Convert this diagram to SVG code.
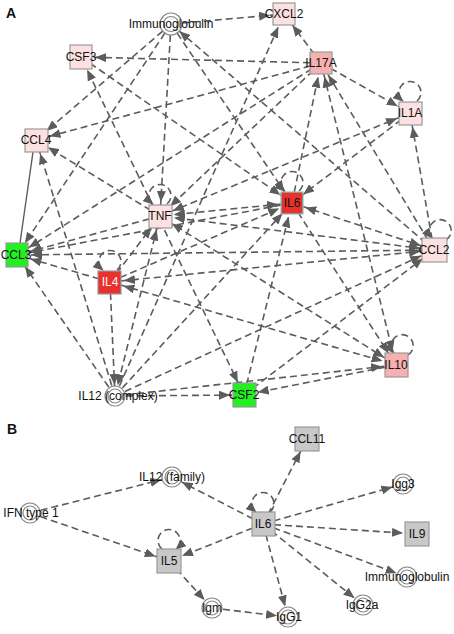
<svg xmlns="http://www.w3.org/2000/svg" width="454" height="634" viewBox="0 0 454 634">
<style>
.e{stroke:#5c5c5c;stroke-width:1.6;stroke-dasharray:7 4;fill:none}
.s{marker-end:url(#as)}
.c{marker-end:url(#ac)}
.b{marker-start:url(#ass)}
.l{marker-end:url(#at)}
.sol{stroke:#5c5c5c;stroke-width:1.4;fill:none}
.t{font-family:"Liberation Sans",Arial,sans-serif;font-size:12px;fill:#111;text-anchor:middle}
.h{font-family:"Liberation Sans",Arial,sans-serif;font-size:14px;font-weight:bold;fill:#111}
.bx{stroke:#999;stroke-width:1.2}
.lp{fill:#fde0e0}.md{fill:#f7b0b0}.rd{fill:#e8302c}.gr{fill:#22f022}.gy{fill:#c8c8c8}
.o{fill:#fff;stroke:#888;stroke-width:1.2}
.i{fill:none;stroke:#888;stroke-width:1.2}
</style>
<defs>
<marker id="as" markerUnits="userSpaceOnUse" markerWidth="11" markerHeight="9" viewBox="0 0 11 9" refX="25" refY="4.5" orient="auto"><path d="M0,0L11,4.5L0,9z" fill="#5c5c5c"/></marker>
<marker id="ass" markerUnits="userSpaceOnUse" markerWidth="11" markerHeight="9" viewBox="0 0 11 9" refX="25" refY="4.5" orient="auto-start-reverse"><path d="M0,0L11,4.5L0,9z" fill="#5c5c5c"/></marker>
<marker id="ac" markerUnits="userSpaceOnUse" markerWidth="11" markerHeight="9" viewBox="0 0 11 9" refX="22" refY="4.5" orient="auto"><path d="M0,0L11,4.5L0,9z" fill="#5c5c5c"/></marker>
<marker id="at" markerUnits="userSpaceOnUse" markerWidth="11" markerHeight="9" viewBox="0 0 11 9" refX="10" refY="4.5" orient="auto"><path d="M0,0L11,4.5L0,9z" fill="#5c5c5c"/></marker>
</defs>
<rect width="454" height="634" fill="#fff"/>
<text class="h" x="6" y="18">A</text>
<text class="h" x="7" y="434">B</text>
<g id="connectors">
<line class="e s" x1="171" y1="24" x2="284" y2="14"/>
<line class="e s" x1="171" y1="24" x2="36" y2="140"/>
<line class="e s" x1="171" y1="24" x2="17" y2="255"/>
<line class="e s" x1="171" y1="24" x2="160" y2="216"/>
<line class="e s" x1="171" y1="24" x2="292" y2="203"/>
<line class="e c" x1="434" y1="250" x2="171" y2="24"/>
<line class="e s" x1="321" y1="63" x2="284" y2="14"/>
<line class="e s" x1="321" y1="63" x2="81" y2="57"/>
<line class="e s" x1="321" y1="63" x2="410" y2="113"/>
<line class="e s" x1="321" y1="63" x2="36" y2="140"/>
<line class="e s" x1="321" y1="63" x2="17" y2="255"/>
<line class="e s" x1="321" y1="63" x2="160" y2="216"/>
<line class="e s" x1="292" y1="203" x2="321" y2="63"/>
<line class="e s b" x1="321" y1="63" x2="396" y2="365"/>
<line class="e s" x1="434" y1="250" x2="321" y2="63"/>
<line class="e s b" x1="160" y1="216" x2="410" y2="113"/>
<line class="e s" x1="434" y1="250" x2="410" y2="113"/>
<line class="e s" x1="410" y1="113" x2="292" y2="203"/>
<line class="e s b" x1="292" y1="203" x2="160" y2="216"/>
<line class="e s b" x1="434" y1="250" x2="160" y2="216"/>
<line class="e s b" x1="396" y1="365" x2="160" y2="216"/>
<line class="e s" x1="160" y1="216" x2="36" y2="140"/>
<line class="e s" x1="160" y1="216" x2="17" y2="255"/>
<line class="e b" x1="160" y1="216" x2="115" y2="396" style="marker-end:url(#ac)"/>
<line class="e s" x1="115" y1="396" x2="284" y2="14"/>
<line class="e s" x1="81" y1="57" x2="292" y2="203"/>
<line class="e s b" x1="244" y1="395" x2="81" y2="57"/>
<line class="e s" x1="115" y1="396" x2="36" y2="140"/>
<line class="sol" x1="33" y1="152" x2="20" y2="243"/>
<line class="e s" x1="110" y1="282" x2="17" y2="255"/>
<line class="e s" x1="110" y1="282" x2="160" y2="216"/>
<line class="e s" x1="110" y1="282" x2="292" y2="203"/>
<line class="e c" x1="110" y1="282" x2="115" y2="396"/>
<line class="e s b" x1="110" y1="282" x2="396" y2="365"/>
<line class="e s b" x1="110" y1="282" x2="434" y2="250"/>
<line class="e s" x1="115" y1="396" x2="17" y2="255"/>
<line class="e s" x1="115" y1="396" x2="292" y2="203"/>
<line class="e s" x1="115" y1="396" x2="244" y2="395"/>
<line class="e s" x1="115" y1="396" x2="396" y2="365"/>
<line class="e s" x1="115" y1="396" x2="434" y2="250"/>
<line class="e s" x1="244" y1="395" x2="292" y2="203"/>
<line class="e s" x1="244" y1="395" x2="434" y2="250"/>
<line class="e s" x1="396" y1="365" x2="244" y2="395"/>
<line class="e s b" x1="434" y1="250" x2="292" y2="203"/>
<line class="e s" x1="292" y1="203" x2="396" y2="365"/>
<line class="e s" x1="292" y1="203" x2="17" y2="255"/>
<line class="e s" x1="434" y1="250" x2="17" y2="255"/>
<path class="e l" d="M167,204A11,11 0 1,0 153,204"/>
<path class="e l" d="M299,191A11,11 0 1,0 285,191"/>
<path class="e l" d="M417,101A11,11 0 1,0 403,101"/>
<path class="e l" d="M446,240A11,11 0 1,0 432,238"/>
<path class="e l" d="M117,270A11,11 0 1,0 103,270"/>
<path class="e l" d="M408,355A11,11 0 1,0 394,353"/>
<line class="e c" x1="30" y1="513" x2="172" y2="477"/>
<line class="e s" x1="30" y1="513" x2="169" y2="561"/>
<line class="e c" x1="263" y1="524" x2="172" y2="477"/>
<line class="e s" x1="263" y1="524" x2="169" y2="561"/>
<line class="e s" x1="263" y1="524" x2="307" y2="439"/>
<line class="e c" x1="263" y1="524" x2="403" y2="484"/>
<line class="e s" x1="263" y1="524" x2="417" y2="534"/>
<line class="e c" x1="263" y1="524" x2="407" y2="577"/>
<line class="e c" x1="263" y1="524" x2="363" y2="605"/>
<line class="e c" x1="263" y1="524" x2="288" y2="617"/>
<line class="e c" x1="169" y1="561" x2="212" y2="608"/>
<line class="e c" x1="212" y1="608" x2="288" y2="617"/>
<path class="e l" d="M270,512A11,11 0 1,0 256,512"/>
<path class="e l" d="M162,549A11,11 0 1,1 176,549"/>
</g>
<g id="a-immunoglobulin"><circle class="o" cx="171" cy="24" r="11"/><circle class="i" cx="171" cy="24" r="7.5"/><text class="t" x="171" y="28">Immunoglobulin</text></g>
<g id="a-cxcl2"><rect class="bx lp" x="273" y="3" width="22" height="22"/><text class="t" x="284" y="18">CXCL2</text></g>
<g id="a-csf3"><rect class="bx lp" x="70" y="45" width="22" height="24"/><text class="t" x="81" y="61">CSF3</text></g>
<g id="a-il17a"><rect class="bx md" x="310" y="52" width="22" height="22"/><text class="t" x="321" y="67">IL17A</text></g>
<g id="a-il1a"><rect class="bx lp" x="399" y="102" width="23" height="23"/><text class="t" x="410" y="117">IL1A</text></g>
<g id="a-ccl4"><rect class="bx lp" x="25" y="129" width="23" height="23"/><text class="t" x="36" y="144">CCL4</text></g>
<g id="a-tnf"><rect class="bx lp" x="149" y="205" width="23" height="23"/><text class="t" x="160" y="220">TNF</text></g>
<g id="a-il6"><rect class="bx rd" x="281" y="192" width="22" height="22" style="stroke:#7cc"/><text class="t" x="292" y="207">IL6</text></g>
<g id="a-ccl2"><rect class="bx lp" x="422" y="238" width="25" height="24"/><text class="t" x="434" y="254">CCL2</text></g>
<g id="a-ccl3"><rect class="bx gr" x="6" y="243" width="22" height="24"/><text class="t" x="16" y="259">CCL3</text></g>
<g id="a-il4"><rect class="bx rd" x="98" y="271" width="23" height="23"/><text class="t" x="110" y="286" style="fill:#fff">IL4</text></g>
<g id="a-il12complex"><circle class="o" cx="115" cy="396" r="10"/><circle class="i" cx="115" cy="396" r="7"/><text class="t" x="118" y="400">IL12 (complex)</text></g>
<g id="a-csf2"><rect class="bx gr" x="233" y="383" width="23" height="24"/><text class="t" x="244" y="399">CSF2</text></g>
<g id="a-il10"><rect class="bx md" x="385" y="353" width="23" height="24"/><text class="t" x="396" y="369">IL10</text></g>
<g id="b-il12family"><circle class="o" cx="172" cy="477" r="10"/><circle class="i" cx="172" cy="477" r="7"/><text class="t" x="172" y="481">IL12 (family)</text></g>
<g id="b-ifntype1"><circle class="o" cx="30" cy="513" r="10"/><circle class="i" cx="30" cy="513" r="7"/><text class="t" x="31" y="517">IFN type 1</text></g>
<g id="b-ccl11"><rect class="bx gy" x="295" y="427" width="24" height="24"/><text class="t" x="307" y="443">CCL11</text></g>
<g id="b-igg3"><circle class="o" cx="403" cy="484" r="10"/><circle class="i" cx="403" cy="484" r="7"/><text class="t" x="403" y="488">Igg3</text></g>
<g id="b-il6"><rect class="bx gy" x="252" y="512" width="23" height="24"/><text class="t" x="263" y="528">IL6</text></g>
<g id="b-il9"><rect class="bx gy" x="405" y="522" width="24" height="24"/><text class="t" x="417" y="538">IL9</text></g>
<g id="b-immunoglobulin"><circle class="o" cx="407" cy="577" r="10"/><circle class="i" cx="407" cy="577" r="7"/><text class="t" x="407" y="581">Immunoglobulin</text></g>
<g id="b-igg2a"><circle class="o" cx="363" cy="605" r="10"/><circle class="i" cx="363" cy="605" r="7"/><text class="t" x="362" y="609">IgG2a</text></g>
<g id="b-igg1"><circle class="o" cx="288" cy="617" r="10"/><circle class="i" cx="288" cy="617" r="7"/><text class="t" x="289" y="621">IgG1</text></g>
<g id="b-il5"><rect class="bx gy" x="157" y="549" width="24" height="24"/><text class="t" x="169" y="565">IL5</text></g>
<g id="b-igm"><circle class="o" cx="212" cy="608" r="10"/><circle class="i" cx="212" cy="608" r="7"/><text class="t" x="212" y="612">Igm</text></g>
</svg>
